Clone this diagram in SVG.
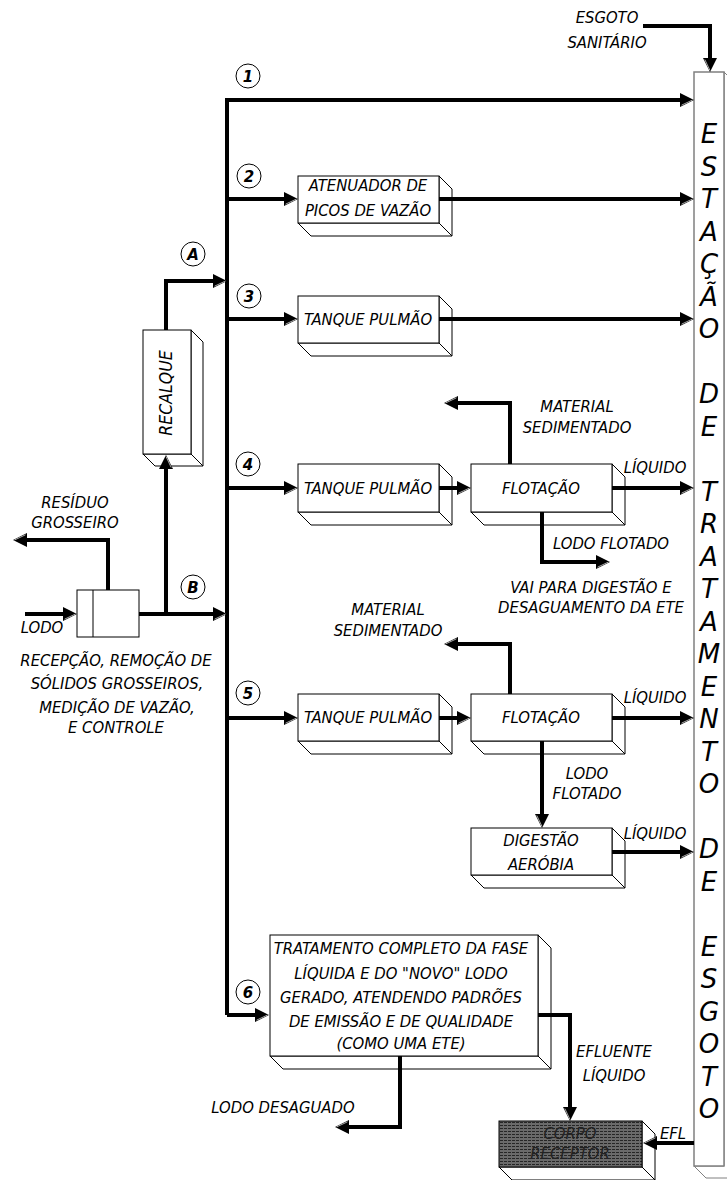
<svg xmlns="http://www.w3.org/2000/svg" width="727" height="1180" viewBox="0 0 727 1180">
<style>
.t{font-family:"DejaVu Sans Condensed","DejaVu Sans",sans-serif;font-stretch:condensed;font-style:italic;font-size:16.5px;text-anchor:middle;fill:#000}
.col{font-family:"DejaVu Sans",sans-serif;font-style:italic;font-size:26px;text-anchor:middle;fill:#000}
.num{font-family:"DejaVu Sans",sans-serif;font-style:italic;font-weight:bold;font-size:15px;text-anchor:middle;fill:#000}
.box{fill:#fff;stroke:#000;stroke-width:1}
.side{fill:#fff;stroke:#000;stroke-width:1;stroke-linejoin:miter}
.circ{fill:#fff;stroke:#000;stroke-width:1}
.flow{fill:none;stroke:#000;stroke-width:4;stroke-linejoin:miter;marker-end:url(#ah)}
</style>
<defs>
<marker id="ah" markerUnits="userSpaceOnUse" markerWidth="16" markerHeight="16" viewBox="0 0 16 16" refX="4" refY="8" orient="auto">
<path d="M0,1 L14,8 L0,15 z" fill="#000"/>
<path d="M1.5,13.2 L12.5,8" stroke="#aaa" stroke-width="1"/>
</marker>
<pattern id="hatch" width="4" height="3" patternUnits="userSpaceOnUse">
<rect width="4" height="3" fill="#6a6a6a"/>
<rect width="3" height="1" fill="#262626"/>
</pattern>
</defs>
<rect width="727" height="1180" fill="#fff"/>

<g id="ete">
<polygon class="side" style="stroke:#808080" points="724,72 736,84 736,1178 706,1178 694,1166 724,1166"/>
<rect x="694" y="72" width="30" height="1094" fill="#fff" stroke="#808080" stroke-width="1.5"/>
<text class="col" x="709" y="143">E</text>
<text class="col" x="709" y="175.5">S</text>
<text class="col" x="709" y="208">T</text>
<text class="col" x="709" y="240.5">A</text>
<text class="col" x="709" y="273">Ç</text>
<text class="col" x="709" y="305.5">Ã</text>
<text class="col" x="709" y="338">O</text>
<text class="col" x="709" y="403">D</text>
<text class="col" x="709" y="435.5">E</text>
<text class="col" x="709" y="500.5">T</text>
<text class="col" x="709" y="533">R</text>
<text class="col" x="709" y="565.5">A</text>
<text class="col" x="709" y="598">T</text>
<text class="col" x="709" y="630.5">A</text>
<text class="col" x="709" y="663">M</text>
<text class="col" x="709" y="695.5">E</text>
<text class="col" x="709" y="728">N</text>
<text class="col" x="709" y="760.5">T</text>
<text class="col" x="709" y="793">O</text>
<text class="col" x="709" y="858">D</text>
<text class="col" x="709" y="890.5">E</text>
<text class="col" x="709" y="955.5">E</text>
<text class="col" x="709" y="988">S</text>
<text class="col" x="709" y="1020.5">G</text>
<text class="col" x="709" y="1053">O</text>
<text class="col" x="709" y="1085.5">T</text>
<text class="col" x="709" y="1118">O</text>
</g>

<g id="esgoto-label">
<text class="t" x="607" y="23">ESGOTO</text>
<text class="t" x="607" y="48">SANITÁRIO</text>
</g>

<g id="atenuador">
<polygon class="side" points="439,176 452,189 452,236 311,236 298,223 439,223"/>
<line x1="439" y1="223" x2="452" y2="236" stroke="#000"/>
<rect class="box" x="298" y="176" width="141" height="47"/>
<text class="t" x="368" y="191">ATENUADOR DE</text>
<text class="t" x="368" y="216">PICOS DE VAZÃO</text>
</g>

<g id="tanque3">
<polygon class="side" points="439,296 452,309 452,356 311,356 298,343 439,343"/>
<line x1="439" y1="343" x2="452" y2="356" stroke="#000"/>
<rect class="box" x="298" y="296" width="141" height="47"/>
<text class="t" x="368" y="325">TANQUE PULMÃO</text>
</g>

<g id="recalque">
<polygon class="side" points="191,330 203,342 203,466 155,466 143,454 191,454"/>
<line x1="191" y1="454" x2="203" y2="466" stroke="#000"/>
<rect class="box" x="143" y="330" width="48" height="124"/>
<text class="t" style="font-size:17.5px" transform="translate(172,393) rotate(-90)">RECALQUE</text>
</g>

<g id="tanque4">
<polygon class="side" points="439,464 452,477 452,525 311,525 298,512 439,512"/>
<line x1="439" y1="512" x2="452" y2="525" stroke="#000"/>
<rect class="box" x="298" y="464" width="141" height="48"/>
<text class="t" x="368" y="494">TANQUE PULMÃO</text>
</g>

<g id="flotacao4">
<polygon class="side" points="612,464 625,477 625,525 484,525 471,512 612,512"/>
<line x1="612" y1="512" x2="625" y2="525" stroke="#000"/>
<rect class="box" x="471" y="464" width="141" height="48"/>
<text class="t" x="541" y="494">FLOTAÇÃO</text>
</g>

<g id="recepcao">
<rect class="box" x="77" y="590" width="62" height="47"/>
<line x1="93" y1="590" x2="93" y2="637" stroke="#000"/>
</g>

<g id="tanque5">
<polygon class="side" points="439,694 452,707 452,754 311,754 298,741 439,741"/>
<line x1="439" y1="741" x2="452" y2="754" stroke="#000"/>
<rect class="box" x="298" y="694" width="141" height="47"/>
<text class="t" x="368" y="723">TANQUE PULMÃO</text>
</g>

<g id="flotacao5">
<polygon class="side" points="612,694 625,707 625,754 484,754 471,741 612,741"/>
<line x1="612" y1="741" x2="625" y2="754" stroke="#000"/>
<rect class="box" x="471" y="694" width="141" height="47"/>
<text class="t" x="541" y="723">FLOTAÇÃO</text>
</g>

<g id="digestao">
<polygon class="side" points="612,828 625,841 625,888 484,888 471,875 612,875"/>
<line x1="612" y1="875" x2="625" y2="888" stroke="#000"/>
<rect class="box" x="471" y="828" width="141" height="47"/>
<text class="t" x="541" y="846">DIGESTÃO</text>
<text class="t" x="541" y="870">AERÓBIA</text>
</g>

<g id="tratamento">
<polygon class="side" points="538,935 551,948 551,1069 283,1069 270,1056 538,1056"/>
<line x1="538" y1="1056" x2="551" y2="1069" stroke="#000"/>
<rect class="box" x="270" y="935" width="268" height="121"/>
<text class="t" x="401" y="954">TRATAMENTO COMPLETO DA FASE</text>
<text class="t" x="401" y="979">LÍQUIDA E DO "NOVO" LODO</text>
<text class="t" x="401" y="1003">GERADO, ATENDENDO PADRÕES</text>
<text class="t" x="401" y="1027">DE EMISSÃO E DE QUALIDADE</text>
<text class="t" x="401" y="1049">(COMO UMA ETE)</text>
</g>

<g id="corpo">
<polygon class="side" points="642,1121 655,1134 655,1180 512,1180 499,1167 642,1167"/>
<line x1="642" y1="1167" x2="655" y2="1180" stroke="#000"/>
<rect x="499" y="1121" width="143" height="46" fill="url(#hatch)" stroke="#000" stroke-width="1"/>
<text class="t" x="570" y="1139" style="fill:#222">CORPO</text>
<text class="t" x="570" y="1159" style="fill:#222">RECEPTOR</text>
</g>

<g id="labels">
<circle class="circ" cx="248" cy="76" r="12"/><text class="num" x="248" y="81.5">1</text>
<circle class="circ" cx="249" cy="176" r="12"/><text class="num" x="249" y="181.5">2</text>
<circle class="circ" cx="193" cy="254" r="12"/><text class="num" x="193" y="259.5">A</text>
<circle class="circ" cx="249" cy="296" r="12"/><text class="num" x="249" y="301.5">3</text>
<circle class="circ" cx="248" cy="464" r="12"/><text class="num" x="248" y="469.5">4</text>
<circle class="circ" cx="193" cy="587" r="12"/><text class="num" x="193" y="592.5">B</text>
<circle class="circ" cx="248" cy="693" r="12"/><text class="num" x="248" y="698.5">5</text>
<circle class="circ" cx="248" cy="992" r="12"/><text class="num" x="248" y="997.5">6</text>
<text class="t" x="577" y="412">MATERIAL</text>
<text class="t" x="577" y="433">SEDIMENTADO</text>
<text class="t" x="655" y="473">LÍQUIDO</text>
<text class="t" x="611" y="549">LODO FLOTADO</text>
<text class="t" x="591" y="593">VAI PARA DIGESTÃO E</text>
<text class="t" x="591" y="613">DESAGUAMENTO DA ETE</text>
<text class="t" x="75" y="508">RESÍDUO</text>
<text class="t" x="75" y="528">GROSSEIRO</text>
<text class="t" x="42" y="633">LODO</text>
<text class="t" x="116" y="666">RECEPÇÃO, REMOÇÃO DE</text>
<text class="t" x="117" y="689">SÓLIDOS GROSSEIROS,</text>
<text class="t" x="117" y="713">MEDIÇÃO DE VAZÃO,</text>
<text class="t" x="116" y="733">E CONTROLE</text>
<text class="t" x="388" y="615">MATERIAL</text>
<text class="t" x="388" y="636">SEDIMENTADO</text>
<text class="t" x="655" y="703">LÍQUIDO</text>
<text class="t" x="587" y="779">LODO</text>
<text class="t" x="587" y="799">FLOTADO</text>
<text class="t" x="655" y="839">LÍQUIDO</text>
<text class="t" x="614" y="1057">EFLUENTE</text>
<text class="t" x="614" y="1081">LÍQUIDO</text>
<text class="t" x="283" y="1113">LODO DESAGUADO</text>
<text class="t" x="673" y="1139">EFL</text>
</g>

<g id="connectors">
<path class="flow" d="M643,26 H710 V62"/>
<path class="flow" d="M227,1015 V100 H684"/>
<path class="flow" d="M227,1015 H259"/>
<path class="flow" d="M227,199 H288"/>
<path class="flow" d="M439,199 H684"/>
<path class="flow" d="M166,330 V281 H217"/>
<path class="flow" d="M227,319 H288"/>
<path class="flow" d="M439,319 H684"/>
<path class="flow" d="M166,614 V465"/>
<path class="flow" d="M139,614 H217"/>
<path class="flow" d="M25,614 H67"/>
<path class="flow" d="M108,590 V540 H23"/>
<path class="flow" d="M227,488 H288"/>
<path class="flow" d="M439,488 H461"/>
<path class="flow" d="M612,488 H684"/>
<path class="flow" d="M510,464 V403 H454"/>
<path class="flow" d="M542,512 V562 H600"/>
<path class="flow" d="M227,718 H288"/>
<path class="flow" d="M439,718 H461"/>
<path class="flow" d="M612,718 H684"/>
<path class="flow" d="M510,694 V644 H454"/>
<path class="flow" d="M542,741 V818"/>
<path class="flow" d="M612,852 H684"/>
<path class="flow" d="M538,1015 H570 V1111"/>
<path class="flow" d="M400,1056 V1127 H345"/>
<path class="flow" d="M694,1143 H653"/>
</g>
</svg>
